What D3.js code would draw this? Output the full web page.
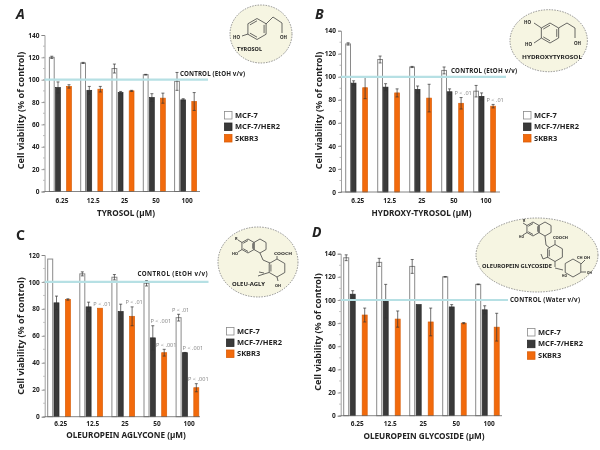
<!DOCTYPE html>
<html>
<head>
<meta charset="utf-8">
<script src="https://d3js.org/d3.v7.min.js"></script>
<style>
html,body{margin:0;padding:0;background:#fff}
svg{display:block;filter:blur(0.3px)}
text{font-family:"Noto Sans",sans-serif;fill:#222}
</style>
</head>
<body>
<svg id="c" width="600" height="450"></svg>
<script>
const doses = ["6.25","12.5","25","50","100"];
const seriesNames = ["MCF-7","MCF-7/HER2","SKBR3"];
const seriesFills = ["#ffffff","#3a3a3a","#f26a0c"];
const seriesStrokes = ["#8a8a8a","#2a2a2a","#d95e08"];

const mcf7A = [120,115,110,104.5,98.5];
const mcf7ErrA = [1,0.5,4,0.3,8];
const her2A = [93,90.5,88.5,84,82];
const her2ErrA = [5,3.5,1,3.5,1];
const skbrA = [94,91.5,90,83.5,80.5];
const skbrErrA = [1.5,2.5,0.5,4.5,8];

const mcf7B = [128.5,115,108.5,105.5,87.5];
const mcf7ErrB = [1,3,0.5,3,5];
const her2B = [94.5,91,89,87,83];
const her2ErrB = [2,3,3,2.5,3];
const skbrB = [90.5,86,81.5,77,74.5];
const skbrErrB = [9.5,3.5,12,5,1.5];

const mcf7C = [117,106,103.5,99,73.5];
const mcf7ErrC = [0,1.5,2,2,2.5];
const her2C = [84.5,81.5,78,58.5,47.5];
const her2ErrC = [5,3.5,5.5,9,0.2];
const skbrC = [87,80.5,74.5,47.5,21.5];
const skbrErrC = [0.5,0,7,2.5,3];

const mcf7D = [136.5,132.5,129,120,113.5];
const mcf7ErrD = [2.5,3.5,6,0.2,0.3];
const her2D = [105,99,96,94,91.5];
const her2ErrD = [3,14.5,0,2,3.5];
const skbrD = [87,83.5,81,80,76.5];
const skbrErrD = [6,7,12,0.5,12];

const yTicksA = [0,20,40,60,80,100,120,140];
const yTicksC = [0,20,40,60,80,100,120];

// [dose index, series index, label]
const pLabelsB = [[3,2,"P < .01"],[4,2,"P < .01"]];
const pLabelsC = [[1,2,"P < .01"],[2,2,"P < .01"],[3,1,"P < .001"],[3,2,"P < .001"],[4,0,"P < .01"],[4,1,"P < .001"],[4,2,"P < .001"]];

const panels = [
 {letter:"A",italic:true,lx:16,ly:19,top:35,bot:191.5,axX:44.5,yMax:140,ticks:yTicksA,
  x0:49,period:31.3,off:[0,6.2,17.2],bw:5.6,
  vals:[mcf7A,her2A,skbrA],errs:[mcf7ErrA,her2ErrA,skbrErrA],
  axEnd:200,ctlEnd:208,ctl:"CONTROL (EtOH v/v)",ctlX:180,ctlY:76,ctlLen:65,
  tickY:203,xLab:"TYROSOL (µM)",xLabX:126,xLabY:216,yLabX:24,yLabY:110.5,
  legX:224,legY:[115,126.5,138],p:[]},
 {letter:"B",italic:true,lx:315,ly:19,top:30.7,bot:192,axX:341,yMax:140,ticks:yTicksA,
  x0:345.3,period:32,off:[0,5.5,17],bw:5.6,
  vals:[mcf7B,her2B,skbrB],errs:[mcf7ErrB,her2ErrB,skbrErrB],
  axEnd:500,ctlEnd:506,ctl:"CONTROL (EtOH v/v)",ctlX:451,ctlY:73,ctlLen:66,
  tickY:203,xLab:"HYDROXY-TYROSOL (µM)",xLabX:421.5,xLabY:216,yLabX:322,yLabY:110.5,
  legX:523,legY:[115,126.5,138],p:pLabelsB},
 {letter:"C",italic:false,lx:16,ly:240,top:255,bot:416.7,axX:44.7,yMax:120,ticks:yTicksC,
  x0:47.3,period:32.1,off:[0,6.3,17.7],bw:5.8,
  vals:[mcf7C,her2C,skbrC],errs:[mcf7ErrC,her2ErrC,skbrErrC],
  axEnd:200,ctlEnd:208.5,ctl:"CONTROL (EtOH v/v)",ctlX:137.5,ctlY:276,ctlLen:70,
  tickY:426,xLab:"OLEUROPEIN AGLYCONE (µM)",xLabX:126,xLabY:438,yLabX:24,yLabY:336,
  legX:226,legY:[331,342.5,353.5],p:pLabelsC},
 {letter:"D",italic:true,lx:312,ly:237,top:253.7,bot:415.7,axX:340.7,yMax:140,ticks:yTicksA,
  x0:343.3,period:33,off:[0,6.5,18.5],bw:5.8,
  vals:[mcf7D,her2D,skbrD],errs:[mcf7ErrD,her2ErrD,skbrErrD],
  axEnd:502,ctlEnd:508,ctl:"CONTROL (Water v/v)",ctlX:510,ctlY:302,ctlLen:70,
  tickY:426,xLab:"OLEUROPEIN GLYCOSIDE (µM)",xLabX:424,xLabY:439,yLabX:321,yLabY:332,
  legX:527,legY:[332,343.7,355.3],p:[]}
];

const svg = d3.select("#c");

panels.forEach(P=>{
  const g = svg.append("g");
  const y = d3.scaleLinear().domain([0,P.yMax]).range([P.bot,P.top]);
  const groupX = d3.scaleBand().domain(doses).range([P.x0,P.x0+P.period*doses.length]).padding(0).align(0);

  g.append("text").attr("x",P.lx).attr("y",P.ly).text(P.letter)
    .attr("font-size",14).attr("font-weight",700).attr("font-style",P.italic?"italic":"normal");

  // bars + error bars
  P.vals.forEach((vals,s)=>{
    const sg = g.append("g");
    const bx = i=>groupX(doses[i])+P.off[s];
    sg.selectAll("rect").data(vals).join("rect")
      .attr("x",(d,i)=>bx(i)+0.4).attr("y",d=>y(d))
      .attr("width",P.bw-0.8).attr("height",d=>P.bot-y(d))
      .attr("fill",seriesFills[s]).attr("stroke",seriesStrokes[s]).attr("stroke-width",s===0?1:0.7);
    vals.forEach((v,i)=>{
      const e = P.errs[s][i]; if(!e) return;
      const cx = bx(i)+P.bw/2;
      const path = d3.path();
      path.moveTo(cx,y(v+e)); path.lineTo(cx,y(v-e));
      path.moveTo(cx-1.5,y(v+e)); path.lineTo(cx+1.5,y(v+e));
      path.moveTo(cx-1.5,y(v-e)); path.lineTo(cx+1.5,y(v-e));
      sg.append("path").attr("d",path.toString()).attr("fill","none").attr("stroke","#333").attr("stroke-width",0.7);
    });
  });

  // axes
  const yAxis = d3.axisLeft(y).tickValues(P.ticks).tickSize(3).tickPadding(2).tickFormat(d3.format("d"));
  const ya = g.append("g").attr("transform",`translate(${P.axX},0)`).call(yAxis);
  ya.selectAll("text").attr("font-size",6.5).attr("font-weight",700);
  ya.selectAll("line,path").attr("stroke","#777").attr("stroke-width",0.7);
  const minor = d3.range(0,P.yMax,10);
  g.append("g").selectAll("line").data(minor).join("line")
    .attr("x1",P.axX-1.5).attr("x2",P.axX).attr("y1",d=>y(d)).attr("y2",d=>y(d))
    .attr("stroke","#777").attr("stroke-width",0.5);

  g.append("line").attr("x1",P.axX).attr("x2",P.axEnd).attr("y1",P.bot).attr("y2",P.bot)
    .attr("stroke","#666").attr("stroke-width",0.8);

  g.append("g").selectAll("text").data(doses).join("text")
    .attr("x",d=>groupX(d)+P.off[1]+P.bw/2+ (P.off[2]-P.off[1])/2 - 1.5)
    .attr("y",P.tickY).attr("text-anchor","middle").attr("font-size",6.5).attr("font-weight",700)
    .text(d=>d);

  // control line
  g.append("line").attr("x1",P.axX).attr("x2",P.ctlEnd).attr("y1",y(100)).attr("y2",y(100))
    .attr("stroke","#b6e0e4").attr("stroke-width",2.2);
  g.append("text").attr("x",P.ctlX).attr("y",P.ctlY).attr("font-size",6.2).attr("font-weight",700)
    .attr("textLength",P.ctlLen).text(P.ctl);

  // titles
  g.append("text").attr("x",P.xLabX).attr("y",P.xLabY).attr("text-anchor","middle")
    .attr("font-size",8.2).attr("font-weight",700).text(P.xLab);
  g.append("text").attr("transform",`translate(${P.yLabX},${P.yLabY}) rotate(-90)`).attr("text-anchor","middle")
    .attr("font-size",9).attr("font-weight",700).text("Cell viability (% of control)");

  // legend
  seriesNames.forEach((n,s)=>{
    g.append("rect").attr("x",P.legX+0.5).attr("y",P.legY[s]-3.5).attr("width",7.5).attr("height",7.5)
      .attr("fill",seriesFills[s]).attr("stroke",seriesStrokes[s]).attr("stroke-width",0.8);
    g.append("text").attr("x",P.legX+11).attr("y",P.legY[s]+2.6).attr("font-size",7.5).attr("font-weight",700)
      .text(n);
  });

  // significance labels
  P.p.forEach(([i,s,t])=>{
    const top = P.vals[s][i]+P.errs[s][i];
    g.append("text").attr("x",groupX(doses[i])+P.off[s]+P.bw/2+(s===1?8:2)).attr("y",y(top)-2.5)
      .attr("text-anchor","middle").attr("font-size",5.6).style("fill","#8c8c8c")
      .text(t);
  });
});

/* ---- molecule insets ---- */
const insets = [
 {cx:261,cy:34,rx:31,ry:29},
 {cx:548.7,cy:40.7,rx:38.7,ry:31},
 {cx:258,cy:262,rx:40,ry:35},
 {cx:537,cy:255,rx:61,ry:37}
];
svg.append("g").selectAll("ellipse").data(insets).join("ellipse")
  .attr("cx",d=>d.cx).attr("cy",d=>d.cy).attr("rx",d=>d.rx).attr("ry",d=>d.ry)
  .attr("fill","#f6f5e2").attr("stroke","#666").attr("stroke-width",0.7).attr("stroke-dasharray","1.5 1.2");

const mol = svg.append("g").attr("fill","none").attr("stroke","#444").attr("stroke-width",0.8);
function hex(cx,cy,r,inner){
  const p = d3.range(6).map(i=>{const a=Math.PI/6+i*Math.PI/3;return [cx+r*Math.cos(a),cy+r*Math.sin(a)];});
  mol.append("path").attr("d",d3.line()(p)+"Z");
  (inner||[]).forEach(k=>{
    const a=p[k],b=p[(k+1)%6],f=.78;
    const m=q=>[cx+(q[0]-cx)*f,cy+(q[1]-cy)*f];
    mol.append("path").attr("d",d3.line()([m(a),m(b)]));
  });
}
function bond(pts){mol.append("path").attr("d",d3.line()(pts));}
function lab(x,y,t,size,len){
  const n = svg.append("text").attr("x",x).attr("y",y).attr("font-size",size||4.5).attr("font-weight",700).text(t);
  if(len) n.attr("textLength",len).attr("lengthAdjust","spacingAndGlyphs");
}
// Tyrosol
hex(257,29,10.5,[1,3,5]);
bond([[266,24],[273,17],[282,23],[282,33]]);
bond([[248,34],[242,36]]);
lab(233,39,"HO",4.5); lab(280,38.5,"OH",4.5);
lab(237,50.5,"TYROSOL",4.8,25);
// Hydroxytyrosol
hex(550,33,10,[1,3,5]);
bond([[558.5,28],[567,23],[575,28],[575,38]]);
bond([[541.5,28],[534,23]]); bond([[541.5,38],[534,43]]);
lab(524,24,"HO",4.5); lab(525,46,"HO",4.5); lab(574,45,"OH",4.5);
lab(522,59,"HYDROXYTYROSOL",4.5,60);
// Oleu-agly
hex(248,246,7,[1,3,5]); hex(260,246,7);
bond([[242,242.5],[238,240]]); bond([[242,249.5],[238,252]]);
lab(235,240,"R",4); lab(232,255,"HO",3.8);
bond([[260,253],[263,260],[270,263]]);
hex(277,268,9,[2]);
bond([[277,259],[277,256]]);
lab(274,254.5,"COOCH",3.6,18);
bond([[269,272.5],[264,274],[258,276]]); bond([[264,273],[259,272]]);
bond([[277,277],[278,281]]);
lab(275,287,"OH",3.8);
lab(232,286,"OLEU-AGLY",4.8,33);
// Oleuropein glycoside
hex(533,229,7,[1,3,5]); hex(545,229,7);
bond([[527,225.5],[523,223]]); bond([[527,232.5],[523,235]]);
lab(523,222,"R",3.5); lab(519,238,"HO",3.2);
bond([[545,236],[546,245],[550,248]]);
hex(555,253,8.5,[2]);
bond([[555,244.5],[555,240]]);
lab(553,239,"COOCH",3.4,15);
bond([[548,257],[543,259],[541,254]]);
bond([[555,261.5],[555,267]]); bond([[555,268],[563,270]]);
hex(573,268,9); 
bond([[581,264],[585,260]]); bond([[581,272],[586,272]]);
lab(577,259,"CH OH",3.2,13);
lab(587,273.5,"OH",3.2); lab(562,277,"HO",3.2);
lab(482,268,"OLEUROPEIN GLYCOSIDE",4.8,70);
</script>
</body>
</html>
